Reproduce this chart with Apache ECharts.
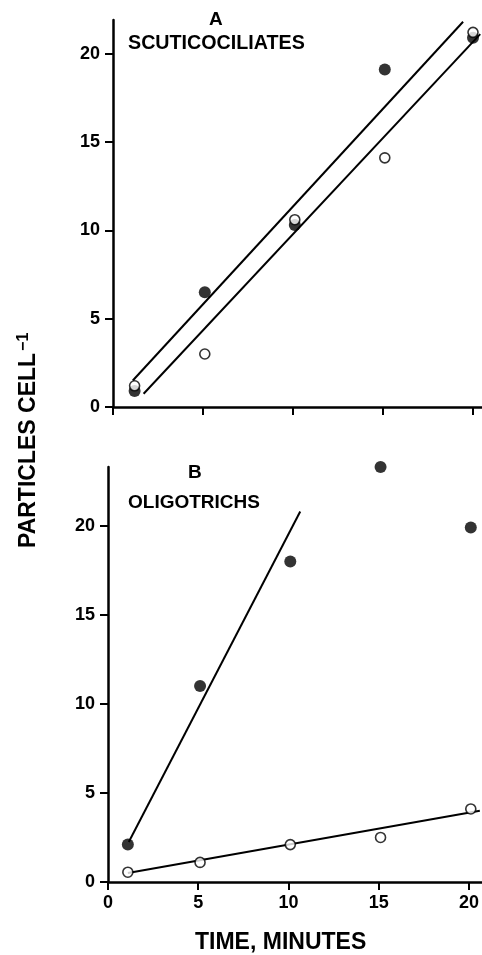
<!DOCTYPE html>
<html>
<head>
<meta charset="utf-8">
<script src="https://cdn.jsdelivr.net/npm/echarts@6/dist/echarts.min.js"></script>
<style>
  html, body { margin: 0; padding: 0; background: #fff; }
  #chart { width: 482px; height: 955px; }
</style>
</head>
<body>
<div id="chart"></div>
<script>
// panel A: scuticociliates
const timeA = [1.2, 5.1, 10.1, 15.1, 20.0]
const filledA = [0.9, 6.5, 10.3, 19.1, 20.9]
const openA = [1.2, 3.0, 10.6, 14.1, 21.2]
const fitUpperA = [[1.1, 1.5], [19.45, 21.8]]
const fitLowerA = [[1.7, 0.75], [20.4, 21.1]]

// panel B: oligotrichs
const timeB = [1.1, 5.1, 10.1, 15.1, 20.1]
const filledB = [2.1, 11.0, 18.0, 23.3, 19.9]
const openB = [0.55, 1.1, 2.1, 2.5, 4.1]
const fitFilledB = [[1.15, 2.25], [10.65, 20.8]]
const fitOpenB = [[1.1, 0.5], [20.6, 4.0]]

const tickValues = [0, 5, 10, 15, 20]
const FONT = 'Liberation Sans, Arial, sans-serif'

const pairs = (xs, ys) => xs.map((x, i) => [x, ys[i]])

const chart = echarts.init(document.getElementById('chart'))

const axisStyle = { lineStyle: { color: '#000', width: 2.5 } }
const tickStyle = { show: true, length: 8, inside: false, lineStyle: { color: '#000', width: 2 }, customValues: tickValues }
const labelStyle = { color: '#000', fontSize: 18, fontWeight: 'bold', fontFamily: FONT, customValues: tickValues }

const filledSym = (xAxisIndex, data) => ({
  type: 'scatter', xAxisIndex, yAxisIndex: xAxisIndex, data,
  symbol: 'circle', symbolSize: 12,
  itemStyle: { color: '#000' }, z: 4
})
const openSym = (xAxisIndex, data) => ({
  type: 'scatter', xAxisIndex, yAxisIndex: xAxisIndex, data,
  symbol: 'circle', symbolSize: 10,
  itemStyle: { color: '#fff', borderColor: '#000', borderWidth: 1.6 }, z: 5
})
const fitLine = (xAxisIndex, data) => ({
  type: 'line', xAxisIndex, yAxisIndex: xAxisIndex, data,
  showSymbol: false, symbol: 'none', silent: true,
  lineStyle: { color: '#000', width: 2 }, z: 3
})

const option = {
  backgroundColor: '#fff',
  animation: false,
  grid: [
    { left: 113, top: 20, width: 369, height: 387 },
    { left: 108, top: 467, width: 374, height: 415 }
  ],
  xAxis: [
    {
      type: 'value', gridIndex: 0, min: 0, max: 20.5, interval: 5,
      axisLine: axisStyle, axisTick: tickStyle,
      axisLabel: { show: false }, splitLine: { show: false }
    },
    {
      type: 'value', gridIndex: 1, min: 0, max: 20.7, interval: 5,
      axisLine: axisStyle, axisTick: tickStyle,
      axisLabel: Object.assign({ margin: 12 }, labelStyle), splitLine: { show: false }
    }
  ],
  yAxis: [
    {
      type: 'value', gridIndex: 0, min: 0, max: 21.9, interval: 5,
      axisLine: Object.assign({ show: true }, axisStyle), axisTick: tickStyle,
      axisLabel: Object.assign({ margin: 13 }, labelStyle), splitLine: { show: false }
    },
    {
      type: 'value', gridIndex: 1, min: 0, max: 23.3, interval: 5,
      axisLine: Object.assign({ show: true }, axisStyle), axisTick: tickStyle,
      axisLabel: Object.assign({ margin: 13 }, labelStyle), splitLine: { show: false }
    }
  ],
  series: [
    fitLine(0, fitUpperA),
    fitLine(0, fitLowerA),
    filledSym(0, pairs(timeA, filledA)),
    openSym(0, pairs(timeA, openA)),
    fitLine(1, fitFilledB),
    fitLine(1, fitOpenB),
    filledSym(1, pairs(timeB, filledB)),
    openSym(1, pairs(timeB, openB))
  ],
  graphic: [
    { type: 'text', left: 209, top: 10, style: { text: 'A', font: 'bold 19px ' + FONT, fill: '#000' } },
    { type: 'text', left: 128, top: 34, style: { text: 'SCUTICOCILIATES', font: 'bold 19.7px ' + FONT, fill: '#000' } },
    { type: 'text', left: 188, top: 463, style: { text: 'B', font: 'bold 19px ' + FONT, fill: '#000' } },
    { type: 'text', left: 128, top: 493, style: { text: 'OLIGOTRICHS', font: 'bold 19px ' + FONT, fill: '#000' } },
    { type: 'text', left: 195, top: 931, style: { text: 'TIME, MINUTES', font: 'bold 23px ' + FONT, fill: '#000' } },
    {
      type: 'text', x: 16, y: 548, rotation: Math.PI / 2,
      style: {
        text: '{a|PARTICLES CELL}{b|−1}',
        fill: '#000',
        rich: {
          a: { font: 'bold 23px ' + FONT, fill: '#000', verticalAlign: 'bottom' },
          b: { font: 'bold 16px ' + FONT, fill: '#000', verticalAlign: 'top', padding: [0, 0, 8, 2] }
        }
      }
    }
  ]
}

chart.setOption(option)
</script>
</body>
</html>
